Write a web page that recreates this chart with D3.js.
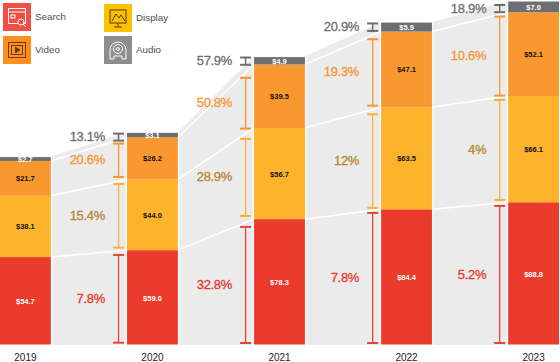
<!DOCTYPE html>
<html>
<head>
<meta charset="utf-8">
<script src="https://cdn.jsdelivr.net/npm/d3@7"></script>
<style>
  html, body { margin: 0; padding: 0; background: #fff; }
  svg { display: block; font-family: "Liberation Sans", Arial, sans-serif; }
</style>
</head>
<body>
<div id="chart"></div>
<script>
const years = ["2019", "2020", "2021", "2022", "2023"];
const seriesNames = ["Search", "Display", "Video", "Audio"];

const search = [54.7, 59.0, 78.3, 84.4, 88.8];
const display = [38.1, 44.0, 56.7, 63.5, 66.1];
const video = [21.7, 26.2, 39.5, 47.1, 52.1];
const audio = [2.7, 3.1, 4.9, 5.9, 7.0];

// growth labels, one per gap between two years
const searchGrowth = ["7.8%", "32.8%", "7.8%", "5.2%"];
const displayGrowth = ["15.4%", "28.9%", "12%", "4%"];
const videoGrowth = ["20.6%", "50.8%", "19.3%", "10.6%"];
const audioGrowth = ["13.1%", "57.9%", "20.9%", "18.9%"];

const width = 560;
const height = 362;
const baseline = 345;

const barColor = { Search: "#ea3b2b", Display: "#fdb32c", Video: "#f9982f", Audio: "#6d6e71" };
const textColor = { Search: "#e8392b", Display: "#b5862f", Video: "#f8962f", Audio: "#6d6e71" };
const capColor = { Search: "#e8453a", Display: "#fbb03b", Video: "#f8972f", Audio: "#6d6e71" };
const labelColor = { Search: "#fff", Display: "#111", Video: "#111", Audio: "#fff" };

// how far each bracket stops short of its segment, per year from 2020 on
const bracketTop = {
  Search: [4.8, 7.8, 3.6, 3.7],
  Display: [4.5, 10.9, 7, 3.9],
  Video: [6.3, 13.3, 7.7, 4.3],
  Audio: [1.3, 0.9, 1.4, 4]
};
const bracketBottom = {
  Search: [2.3, 2, 2, 2],
  Display: [2.5, 3.2, 1.4, 2.3],
  Video: [2.5, -0.6, 1.6, 0.4],
  Audio: [-3.3, -0.3, 0.6, 0.1]
};

const rows = years.map((year, i) => ({
  year,
  Search: search[i],
  Display: display[i],
  Video: video[i],
  Audio: audio[i]
}));
const growth = { Search: searchGrowth, Display: displayGrowth, Video: videoGrowth, Audio: audioGrowth };

const stacked = d3.stack().keys(seriesNames)(rows);

const x = d3.scaleBand().domain(years).range([0, 559]).paddingInner(0.6).paddingOuter(0);
const y = d3.scaleLinear().domain([0, 214]).range([baseline, 1]);

const svg = d3.select("#chart").append("svg")
  .attr("width", width)
  .attr("height", height);

// grey bands that join the bars
const gapArea = d3.area()
  .x(d => d.x)
  .y0(y(0))
  .y1(d => y(d.top));

d3.pairs(rows).forEach(([a, b]) => {
  const topA = d3.sum(seriesNames, k => a[k]);
  const topB = d3.sum(seriesNames, k => b[k]);
  svg.append("path")
    .attr("d", gapArea([
      { x: x(a.year) + x.bandwidth(), top: topA },
      { x: x(b.year), top: topB }
    ]))
    .attr("fill", "#ebebeb");
});

// white lines between the layers
const link = d3.line().x(d => d.x).y(d => y(d.v));
stacked.slice(0, 3).forEach(layer => {
  d3.pairs(layer).forEach(([a, b]) => {
    svg.append("path")
      .attr("d", link([
        { x: x(a.data.year) + x.bandwidth(), v: a[1] },
        { x: x(b.data.year), v: b[1] }
      ]))
      .attr("fill", "none")
      .attr("stroke", "#fff")
      .attr("stroke-width", 1.5);
  });
});

// bars
const layers = svg.selectAll("g.layer")
  .data(stacked)
  .enter()
  .append("g")
  .attr("class", "layer");

layers.selectAll("rect")
  .data(d => d)
  .enter()
  .append("rect")
  .attr("x", d => x(d.data.year))
  .attr("y", d => y(d[1]))
  .attr("width", x.bandwidth())
  .attr("height", d => y(d[0]) - y(d[1]))
  .attr("fill", function () { return barColor[d3.select(this.parentNode).datum().key]; });

// white outline on the outer edges of each bar
svg.selectAll("rect.edge")
  .data(rows)
  .enter()
  .append("rect")
  .attr("class", "edge")
  .attr("x", d => x(d.year) - 1)
  .attr("y", d => y(d3.sum(seriesNames, k => d[k])))
  .attr("width", x.bandwidth() + 2)
  .attr("height", d => baseline - y(d3.sum(seriesNames, k => d[k])))
  .attr("fill", "none")
  .attr("stroke", "#fff")
  .attr("stroke-width", 1);

// value labels
layers.selectAll("text")
  .data(d => d.map(p => ({ p, key: d.key })))
  .enter()
  .append("text")
  .attr("x", d => x(d.p.data.year) + x.bandwidth() / 2)
  .attr("y", d => (y(d.p[0]) + y(d.p[1])) / 2)
  .attr("dy", "0.4em")
  .attr("text-anchor", "middle")
  .attr("font-size", 7.5)
  .attr("font-weight", "bold")
  .attr("fill", d => labelColor[d.key])
  .text(d => "$" + d3.format(".1f")(d.p.data[d.key]));

// growth brackets and percentages, to the left of each bar from 2020 on
stacked.forEach(layer => {
  const key = layer.key;
  layer.slice(1).forEach((p, i) => {
    const y1 = y(p[1]) + bracketTop[key][i];
    const y2 = y(p[0]) - bracketBottom[key][i];
    const bx = x(p.data.year) - 8.5;
    const g = svg.append("g")
      .attr("stroke", capColor[key])
      .attr("stroke-width", key === "Audio" ? 1.5 : 1.3);
    g.append("line").attr("x1", bx).attr("x2", bx).attr("y1", y1).attr("y2", y2);
    [y1, y2].forEach(v => {
      g.append("line")
        .attr("x1", bx - 5.5)
        .attr("x2", bx + 5.5)
        .attr("y1", v)
        .attr("y2", v)
        .attr("stroke-width", 2);
    });
    svg.append("text")
      .attr("x", x(p.data.year) - 22)
      .attr("y", (y1 + y2) / 2 - 0.5)
      .attr("dy", "0.35em")
      .attr("text-anchor", "end")
      .attr("font-size", 13)
      .attr("letter-spacing", "-0.3px")
      .attr("fill", textColor[key])
      .attr("stroke", textColor[key])
      .attr("stroke-width", 0.3)
      .text(growth[key][i]);
  });
});

// year axis
svg.append("g")
  .attr("transform", `translate(0,${baseline})`)
  .call(d3.axisBottom(x).tickSize(0).tickPadding(9))
  .call(g => g.select(".domain").remove())
  .call(g => g.selectAll("text")
    .attr("font-size", 10)
    .attr("font-family", "Liberation Sans, Arial, sans-serif")
    .attr("fill", "#222"));

// legend, icons are plain line drawings
const legendColor = { Search: "#f04f45", Display: "#ffc000", Video: "#fd8f1e", Audio: "#8e8e90" };
const legendPos = { Search: [3, 3], Display: [104, 4], Video: [3, 36], Audio: [104, 36] };
const iconStroke = { Search: "#fff", Display: "#4a3a10", Video: "#6b3c10", Audio: "#fff" };

seriesNames.forEach(name => {
  const [lx, ly] = legendPos[name];
  const g = svg.append("g").attr("transform", `translate(${lx},${ly})`);
  g.append("rect").attr("width", 28).attr("height", 28).attr("fill", legendColor[name]);
  const ic = g.append("g")
    .attr("fill", "none")
    .attr("stroke", iconStroke[name])
    .attr("stroke-width", 1);
  if (name === "Search") {
    ic.append("rect").attr("x", 5.5).attr("y", 5.5).attr("width", 17).attr("height", 15);
    ic.append("line").attr("x1", 5.5).attr("x2", 22.5).attr("y1", 9).attr("y2", 9);
    ic.append("circle").attr("cx", 18).attr("cy", 19).attr("r", 3).attr("fill", legendColor[name]);
    ic.append("line").attr("x1", 20).attr("x2", 23).attr("y1", 21).attr("y2", 24);
    ic.append("rect").attr("x", 8).attr("y", 12).attr("width", 4).attr("height", 3);
  } else if (name === "Display") {
    ic.append("rect").attr("x", 6).attr("y", 6).attr("width", 16).attr("height", 13);
    ic.append("path").attr("d", d3.line()([[8, 17], [12, 10], [15, 14], [17, 11], [21, 17]]));
    ic.append("line").attr("x1", 14).attr("x2", 14).attr("y1", 19).attr("y2", 23);
    ic.append("line").attr("x1", 10).attr("x2", 18).attr("y1", 23).attr("y2", 23);
  } else if (name === "Video") {
    ic.append("rect").attr("x", 5.5).attr("y", 6.5).attr("width", 17).attr("height", 15);
    ic.append("rect").attr("x", 8.5).attr("y", 9.5).attr("width", 11).attr("height", 9);
    ic.append("path").attr("d", d3.line()([[12, 11], [17, 14], [12, 17]])).attr("fill", iconStroke[name]);
  } else {
    ic.append("path").attr("d", "M6 23V14a8 8 0 0 1 16 0V23H18V20H10V23Z");
    ic.append("circle").attr("cx", 14).attr("cy", 13).attr("r", 4.5);
    ic.append("circle").attr("cx", 14).attr("cy", 13).attr("r", 1.5);
  }
  svg.append("text")
    .attr("x", lx + 32)
    .attr("y", ly + 14)
    .attr("dy", "0.35em")
    .attr("font-size", 9.8)
    .attr("fill", "#4d4f53")
    .text(name);
});
</script>
</body>
</html>
